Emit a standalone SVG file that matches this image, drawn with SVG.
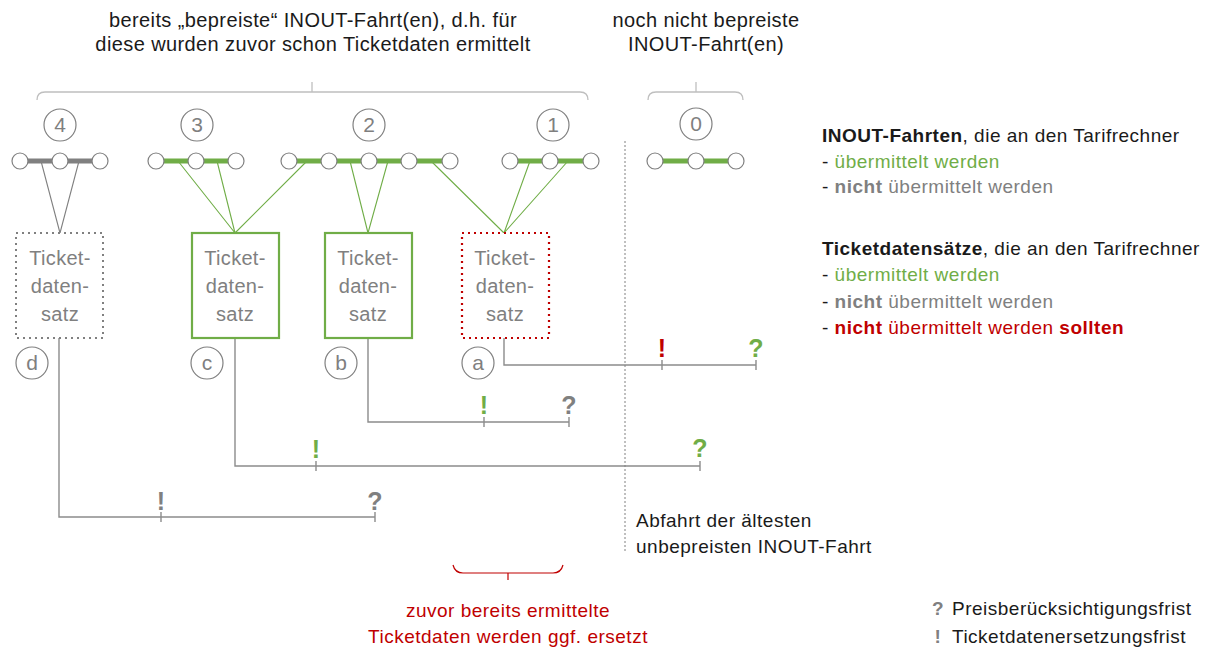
<svg xmlns="http://www.w3.org/2000/svg" width="1212" height="653" viewBox="0 0 1212 653">
  <style>
    text { font-family: "Liberation Sans", Arial, sans-serif; }
    .hdr { font-size: 20px; letter-spacing: 0.4px; fill: #1a1a1a; text-anchor: middle; }
    .leg { font-size: 19px; letter-spacing: 0.5px; fill: #1a1a1a; }
    .num { font-size: 21px; fill: #7f7f7f; text-anchor: middle; }
    .box-t { font-size: 20px; letter-spacing: 0.3px; fill: #808080; text-anchor: middle; }
    .mark { font-size: 25px; font-weight: bold; text-anchor: middle; }
    .green { fill: #70ad47; }
    .grey { fill: #808080; }
    .red { fill: #c00000; }
    .b { font-weight: bold; }
    .ring { fill: #fff; stroke: #808080; stroke-width: 1.2; }
    .stop { fill: #fff; stroke: #808080; stroke-width: 1.2; }
    .seg-g { stroke: #70ad47; stroke-width: 5; }
    .seg-x { stroke: #808080; stroke-width: 5; }
    .thin-g { stroke: #70ad47; stroke-width: 1.1; fill: none; }
    .thin-x { stroke: #808080; stroke-width: 1.1; fill: none; }
    .brace { fill: none; stroke: #bfbfbf; stroke-width: 1.3; }
    .tl { fill: none; stroke: #8c8c8c; stroke-width: 1.4; }
  </style>

  <!-- headings -->
  <g id="heading-priced">
    <text class="hdr" x="313" y="27">bereits „bepreiste“ INOUT-Fahrt(en), d.h. für</text>
    <text class="hdr" x="313" y="51">diese wurden zuvor schon Ticketdaten ermittelt</text>
    <path class="brace" d="M37,100 Q37,92 45,92 L580,92 Q588,92 588,100 M312,82 L312,92"/>
  </g>
  <g id="heading-unpriced">
    <text class="hdr" x="706" y="27">noch nicht bepreiste</text>
    <text class="hdr" x="706" y="51">INOUT-Fahrt(en)</text>
    <path class="brace" d="M648,100 Q648,92 656,92 L735,92 Q743,92 743,100 M696,82 L696,92"/>
  </g>

  <!-- connectors: trips to ticket data sets, and time lines -->
  <g id="connectors">
    <path class="thin-x" d="M41,161 L60,233 L79,161"/>
    <path class="thin-g" d="M178,161 L235,233 M217,161 L235,233 M307,161 L235,233"/>
    <path class="thin-g" d="M350,161 L368,233 L388,161"/>
    <path class="thin-g" d="M431,161 L504,233 M530,161 L504,233 M568,161 L504,233"/>

    <path class="tl" d="M59,338 L59,517 L375,517 M161,512 L161,522 M375,512 L375,522"/>
    <path class="tl" d="M235,338 L235,466 L700,466 M316,461 L316,471 M700,461 L700,471"/>
    <path class="tl" d="M368,338 L368,422 L569,422 M484,417 L484,427 M569,417 L569,427"/>
    <path class="tl" d="M504,338 L504,365 L756,365 M662,360 L662,370 M756,360 L756,370"/>

    <line x1="625" y1="141" x2="625" y2="552" stroke="#808080" stroke-width="1" stroke-dasharray="2 2"/>
  </g>

  <!-- trip 4 -->
  <g id="trip-4">
    <circle class="ring" cx="60" cy="125" r="16"/>
    <text class="num" x="60" y="132">4</text>
    <line class="seg-x" x1="20" y1="161" x2="100" y2="161"/>
    <circle class="stop" cx="20" cy="161" r="8"/>
    <circle class="stop" cx="60" cy="161" r="8"/>
    <circle class="stop" cx="100" cy="161" r="8"/>
  </g>
  <!-- trip 3 -->
  <g id="trip-3">
    <circle class="ring" cx="197" cy="125" r="16"/>
    <text class="num" x="197" y="132">3</text>
    <line class="seg-g" x1="156" y1="161" x2="236" y2="161"/>
    <circle class="stop" cx="156" cy="161" r="8"/>
    <circle class="stop" cx="196" cy="161" r="8"/>
    <circle class="stop" cx="236" cy="161" r="8"/>
  </g>
  <!-- trip 2 -->
  <g id="trip-2">
    <circle class="ring" cx="369" cy="125" r="16"/>
    <text class="num" x="369" y="132">2</text>
    <line class="seg-g" x1="289" y1="161" x2="450" y2="161"/>
    <circle class="stop" cx="289" cy="161" r="8"/>
    <circle class="stop" cx="329" cy="161" r="8"/>
    <circle class="stop" cx="369" cy="161" r="8"/>
    <circle class="stop" cx="409" cy="161" r="8"/>
    <circle class="stop" cx="450" cy="161" r="8"/>
  </g>
  <!-- trip 1 -->
  <g id="trip-1">
    <circle class="ring" cx="553" cy="125" r="16"/>
    <text class="num" x="553" y="132">1</text>
    <line class="seg-g" x1="510" y1="161" x2="591" y2="161"/>
    <circle class="stop" cx="510" cy="161" r="8"/>
    <circle class="stop" cx="550" cy="161" r="8"/>
    <circle class="stop" cx="591" cy="161" r="8"/>
  </g>
  <!-- trip 0 -->
  <g id="trip-0">
    <circle class="ring" cx="696" cy="124" r="16"/>
    <text class="num" x="696" y="131">0</text>
    <line class="seg-g" x1="655" y1="161" x2="736" y2="161"/>
    <circle class="stop" cx="655" cy="161" r="8"/>
    <circle class="stop" cx="696" cy="161" r="8"/>
    <circle class="stop" cx="736" cy="161" r="8"/>
  </g>

  <!-- ticket data sets -->
  <g id="ticket-d">
    <rect x="16" y="233" width="87" height="105" fill="#fff" stroke="#808080" stroke-width="2" stroke-dasharray="2 4"/>
    <text class="box-t" x="60" y="265">Ticket-</text>
    <text class="box-t" x="60" y="293">daten-</text>
    <text class="box-t" x="60" y="321">satz</text>
    <circle class="ring" cx="32" cy="363" r="16"/>
    <text class="num" x="32" y="370">d</text>
  </g>
  <g id="ticket-c">
    <rect x="192" y="233" width="87" height="105" fill="#fff" stroke="#70ad47" stroke-width="2.2"/>
    <text class="box-t" x="235" y="265">Ticket-</text>
    <text class="box-t" x="235" y="293">daten-</text>
    <text class="box-t" x="235" y="321">satz</text>
    <circle class="ring" cx="207" cy="363" r="16"/>
    <text class="num" x="207" y="370">c</text>
  </g>
  <g id="ticket-b">
    <rect x="325" y="233" width="87" height="105" fill="#fff" stroke="#70ad47" stroke-width="2.2"/>
    <text class="box-t" x="368" y="265">Ticket-</text>
    <text class="box-t" x="368" y="293">daten-</text>
    <text class="box-t" x="368" y="321">satz</text>
    <circle class="ring" cx="341" cy="363" r="16"/>
    <text class="num" x="341" y="370">b</text>
  </g>
  <g id="ticket-a">
    <rect x="462" y="233" width="87" height="105" fill="#fff" stroke="#c00000" stroke-width="2.2" stroke-dasharray="2 4"/>
    <text class="box-t" x="505" y="265">Ticket-</text>
    <text class="box-t" x="505" y="293">daten-</text>
    <text class="box-t" x="505" y="321">satz</text>
    <circle class="ring" cx="478" cy="363" r="16"/>
    <text class="num" x="478" y="370">a</text>
  </g>

  <!-- deadline marks on the time lines -->
  <g id="marks">
    <text class="mark red" x="662" y="357">!</text>
    <text class="mark green" x="756" y="357">?</text>
    <text class="mark green" x="484" y="414">!</text>
    <text class="mark grey" x="569" y="414">?</text>
    <text class="mark green" x="316" y="458">!</text>
    <text class="mark green" x="700" y="457">?</text>
    <text class="mark grey" x="161" y="510">!</text>
    <text class="mark grey" x="375" y="510">?</text>
  </g>

  <g id="departure-label">
    <text class="leg" x="636" y="527">Abfahrt der ältesten</text>
    <text class="leg" x="636" y="553">unbepreisten INOUT-Fahrt</text>
  </g>

  <g id="replaced-note">
    <path fill="none" stroke="#c00000" stroke-width="1.2" d="M453,565 Q455,573 463,573 L553,573 Q561,573 563,565 M508,573 L508,580"/>
    <text class="leg red" x="508" y="617" text-anchor="middle">zuvor bereits ermittelte</text>
    <text class="leg red" x="508" y="643" text-anchor="middle">Ticketdaten werden ggf. ersetzt</text>
  </g>

  <!-- legend -->
  <g id="legend-trips">
    <text class="leg" x="822" y="142"><tspan class="b">INOUT-Fahrten</tspan>, die an den Tarifrechner</text>
    <text class="leg" x="822" y="168">- <tspan class="green">übermittelt werden</tspan></text>
    <text class="leg" x="822" y="193">- <tspan class="grey b">nicht</tspan><tspan class="grey"> übermittelt werden</tspan></text>
  </g>
  <g id="legend-tickets">
    <text class="leg" x="822" y="255"><tspan class="b">Ticketdatensätze</tspan>, die an den Tarifrechner</text>
    <text class="leg" x="822" y="281">- <tspan class="green">übermittelt werden</tspan></text>
    <text class="leg" x="822" y="308">- <tspan class="grey b">nicht</tspan><tspan class="grey"> übermittelt werden</tspan></text>
    <text class="leg" x="822" y="334">- <tspan class="red b">nicht</tspan><tspan class="red"> übermittelt werden </tspan><tspan class="red b">sollten</tspan></text>
  </g>
  <g id="legend-marks">
    <text class="leg grey b" x="938" y="615" text-anchor="middle">?</text>
    <text class="leg" x="952" y="615">Preisberücksichtigungsfrist</text>
    <text class="leg grey b" x="938" y="643" text-anchor="middle">!</text>
    <text class="leg" x="952" y="643">Ticketdatenersetzungsfrist</text>
  </g>
</svg>
